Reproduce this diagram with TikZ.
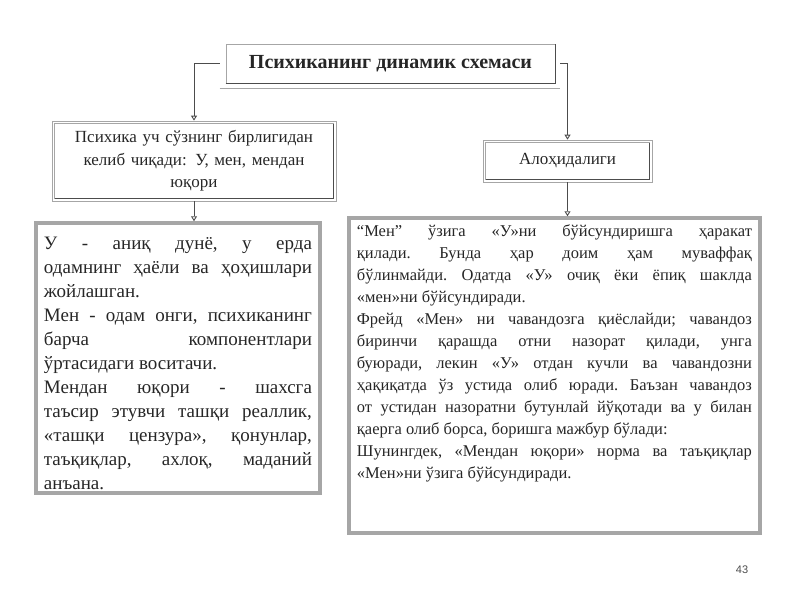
\documentclass[tikz,border=0pt]{standalone}
\usepackage{fontspec}
\setmainfont{Liberation Serif}
\newfontfamily\numfont{Liberation Sans}
\usetikzlibrary{arrows.meta}

\begin{document}
\begin{tikzpicture}[x=1pt,y=-1pt]
\colorlet{framecol}{gray!70}
\colorlet{edgecol}{black!70}
\colorlet{txtcol}{black!85}
\tikzstyle{arr}=[draw=black!70, line width=0.9pt, -{Triangle[open,width=6pt,length=5pt]}];
\tikzstyle{headbox}=[draw=framecol, line width=0.7pt, inner sep=0pt, text=txtcol];
\tikzstyle{txtbox}=[draw=framecol, line width=3.5pt, inner sep=0pt];
\tikzstyle{txt}=[anchor=north west, inner sep=0pt, text=txtcol, align=justify,
  execute at begin node={\frenchspacing\tolerance=10000\hyphenpenalty=10000}];

\useasboundingbox (0,0) rectangle (800,600);

% heading boxes
\node[headbox, minimum width=329pt, minimum height=39pt,
  font=\fontsize{20}{24}\selectfont\bfseries] (title) at (390.5,63.5) {Психиканинг динамик схемаси};
\draw[edgecol, line width=0.9pt] (title.south west) -- (title.south east) -- (title.north east);
\draw[framecol, line width=0.7pt] ([shift={(-6pt,-5pt)}]title.south west) -- ([shift={(5pt,-5pt)}]title.south east);

\node[headbox, minimum width=284pt, minimum height=80pt, text width=270pt, align=center,
  font=\fontsize{17}{22.5}\selectfont] (lbox) at (194,161)
  {Психика уч сўзнинг бирлигидан\\ келиб чиқади: У, мен, мендан\\ юқори};
\node[headbox, minimum width=169pt, minimum height=42pt,
  font=\fontsize{17}{21}\selectfont] (abox) at (567.5,161) {Алоҳидалиги};

\foreach \b in {lbox,abox} {
  \draw[framecol, line width=0.6pt] ([shift={(3pt,-3pt)}]\b.north west) rectangle ([shift={(-3pt,3pt)}]\b.south east);
  \draw[edgecol, line width=0.9pt] ([shift={(3pt,3pt)}]\b.south west) -- ([shift={(-3pt,3pt)}]\b.south east)
    -- ([shift={(-3pt,-3pt)}]\b.north east);
}

% text boxes
\node[txtbox, minimum width=284pt, minimum height=270pt] (ltext) at (178,358) {};
\node[txtbox, minimum width=411pt, minimum height=315pt] (rtext) at (554.5,375.5) {};

\node[txt, text width=268pt, font=\fontsize{19}{24}\selectfont] (ltxt) at ([shift={(9.5pt,-16pt)}]ltext.north west)
  {У - аниқ дунё, у ерда\linebreak
   одамнинг ҳаёли ва ҳоҳишлари\linebreak
   жойлашган.\\
   Мен - одам онги, психиканинг\linebreak
   барча компонентлари\linebreak
   ўртасидаги воситачи.\\
   Мендан юқори - шахсга\linebreak
   таъсир этувчи ташқи реаллик,\linebreak
   «ташқи цензура», қонунлар,\linebreak
   таъқиқлар, ахлоқ, маданий\linebreak
   анъана.};

\node[txt, text width=395pt, font=\fontsize{16.5}{22}\selectfont] (rtxt) at ([shift={(9.5pt,-8pt)}]rtext.north west)
  {“Мен” ўзига «У»ни бўйсундиришга ҳаракат\linebreak
   қилади. Бунда ҳар доим ҳам муваффақ\linebreak
   бўлинмайди. Одатда «У» очиқ ёки ёпиқ шаклда\linebreak
   «мен»ни бўйсундиради.\\
   Фрейд «Мен» ни чавандозга қиёслайди; чавандоз\linebreak
   биринчи қарашда отни назорат қилади, унга\linebreak
   буюради, лекин «У» отдан кучли ва чавандозни\linebreak
   ҳақиқатда ўз устида олиб юради. Баъзан чавандоз\linebreak
   от устидан назоратни бутунлай йўқотади ва у билан\linebreak
   қаерга олиб борса, боришга мажбур бўлади:\\
   Шунингдек, «Мендан юқори» норма ва таъқиқлар\linebreak
   «Мен»ни ўзига бўйсундиради.};

% connectors
\draw[arr] ([xshift=-6pt]title.west) -| (lbox.north);
\draw[arr] ([xshift=5pt]title.east) -| (abox.north);
\draw[arr] (lbox.south) -- (lbox.south |- ltext.north);
\draw[arr] (abox.south) -- (abox.south |- rtext.north);

\node[font=\numfont\fontsize{11}{13}\selectfont, text=black!70] (pnum) at (742,570) {43};
\end{tikzpicture}
\end{document}
